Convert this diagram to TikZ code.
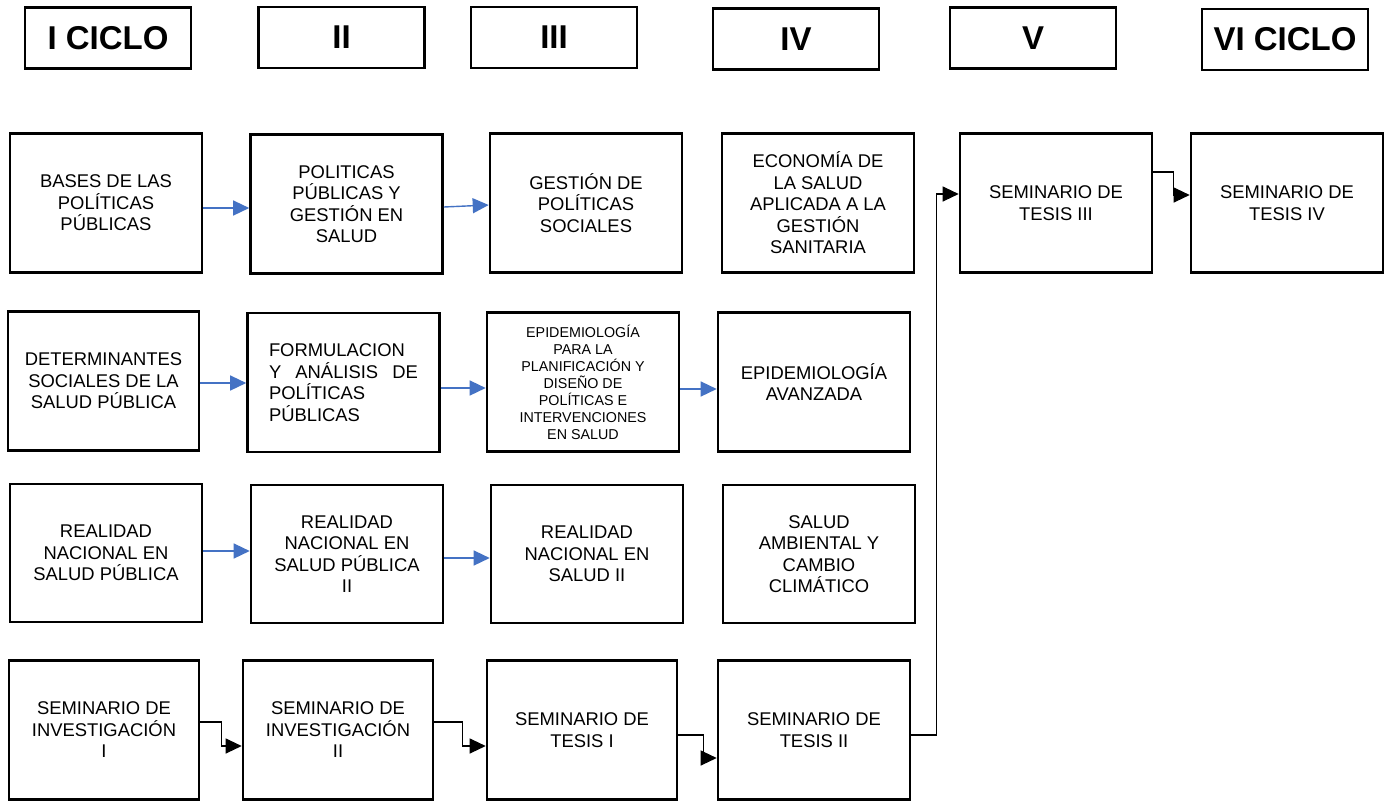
\documentclass[tikz,border=0pt]{standalone}
\usepackage{fontspec}
\setmainfont{Liberation Sans}
\usetikzlibrary{arrows.meta}
\definecolor{arrowblue}{RGB}{68,114,196}
\begin{document}
\begin{tikzpicture}[x=1pt,y=-1pt,
  hdr/.style={draw=black,line width=2.6pt,minimum width=166pt,minimum height=61pt,inner sep=0pt,
    font=\fontsize{33}{36}\selectfont\bfseries},
  course/.style={draw=black,line width=2.6pt,minimum width=192pt,minimum height=139pt,inner sep=0pt,
    align=center,font=\fontsize{18.4}{21.5}\selectfont},
  small/.style={font=\fontsize{14.3}{17}\selectfont},
  bluearrow/.style={draw=arrowblue,line width=1.4pt,-{Triangle[length=16pt,width=15pt]}},
  elbow/.style={draw=black,line width=1.1pt,-{Triangle[length=16pt,width=15pt]}}
]
\useasboundingbox (0,0) rectangle (1390,801);
\fill[white] (0,0) rectangle (1390,801);

% headers
\node[hdr] (h1) at (108,38) {I CICLO};
\node[hdr] (h2) at (341.5,37.5) {II};
\node[hdr] (h3) at (554,37.5) {III};
\node[hdr] (h4) at (796,39) {IV};
\node[hdr] (h5) at (1033,38) {V};
\node[hdr] (h6) at (1285,39.5) {VI CICLO};

% row 1
\node[course] (b11) at (106,203) {BASES DE LAS\\POLÍTICAS\\PÚBLICAS};
\node[course] (b12) at (346.5,204) {POLITICAS\\PÚBLICAS Y\\GESTIÓN EN\\SALUD};
\node[course] (b13) at (586,203) {GESTIÓN DE\\POLÍTICAS\\SOCIALES};
\node[course] (b14) at (818,203) {ECONOMÍA DE\\LA SALUD\\APLICADA A LA\\GESTIÓN\\SANITARIA};
\node[course] (b15) at (1056,203) {SEMINARIO DE\\TESIS III};
\node[course] (b16) at (1287,203) {SEMINARIO DE\\TESIS IV};

% row 2
\node[course,minimum width=191pt] (b21) at (103.5,381) {DETERMINANTES\\SOCIALES DE LA\\SALUD PÚBLICA};
\node[course,align=left] (b22) at (343.5,382.5) {FORMULACION\\\makebox[149pt][s]{Y ANÁLISIS DE}\\POLÍTICAS\\PÚBLICAS};
\node[course,small] (b23) at (583,382) {EPIDEMIOLOGÍA\\PARA LA\\PLANIFICACIÓN Y\\DISEÑO DE\\POLÍTICAS E\\INTERVENCIONES\\EN SALUD};
\node[course] (b24) at (814,382) {EPIDEMIOLOGÍA\\AVANZADA};

% row 3
\node[course,minimum height=138pt] (b31) at (106,553) {REALIDAD\\NACIONAL EN\\SALUD PÚBLICA};
\node[course,minimum height=138pt] (b32) at (347,554) {REALIDAD\\NACIONAL EN\\SALUD PÚBLICA\\II};
\node[course,minimum height=138pt] (b33) at (587,554) {REALIDAD\\NACIONAL EN\\SALUD II};
\node[course,minimum height=138pt] (b34) at (819,554) {SALUD\\AMBIENTAL Y\\CAMBIO\\CLIMÁTICO};

% row 4
\node[course,minimum width=190pt] (b41) at (104,730) {SEMINARIO DE\\INVESTIGACIÓN\\I};
\node[course,minimum width=190pt] (b42) at (338,730) {SEMINARIO DE\\INVESTIGACIÓN\\II};
\node[course,minimum width=190pt] (b43) at (582,730) {SEMINARIO DE\\TESIS I};
\node[course,minimum width=192pt] (b44) at (814,730) {SEMINARIO DE\\TESIS II};

% blue arrows
\draw[bluearrow] (b11.east |- 0,208) -- (b12.west |- 0,208);
\draw[bluearrow] (b12.east |- 0,207) -- (b13.west |- 0,205);
\draw[bluearrow] (b21.east |- 0,383) -- (b22.west |- 0,383);
\draw[bluearrow] (b22.east |- 0,388) -- (b23.west |- 0,388);
\draw[bluearrow] (b23.east |- 0,389) -- (b24.west |- 0,389);
\draw[bluearrow] (b31.east |- 0,551) -- (b32.west |- 0,551);
\draw[bluearrow] (b32.east |- 0,558) -- (b33.west |- 0,558);

% black elbow connectors
\draw[elbow] (b41.east |- 0,722) -- ++(21,0) |- (b42.west |- 0,746);
\draw[elbow] (b42.east |- 0,722) -- ++(28,0) |- (b43.west |- 0,746);
\draw[elbow] (b43.east |- 0,735) -- ++(25,0) |- (b44.west |- 0,758);
\draw[elbow] (b44.east |- 0,735) -- ++(25,0) |- (b15.west |- 0,194);
\draw[elbow] (b15.east |- 0,172) -- ++(20,0) |- (b16.west |- 0,195);
\end{tikzpicture}
\end{document}
